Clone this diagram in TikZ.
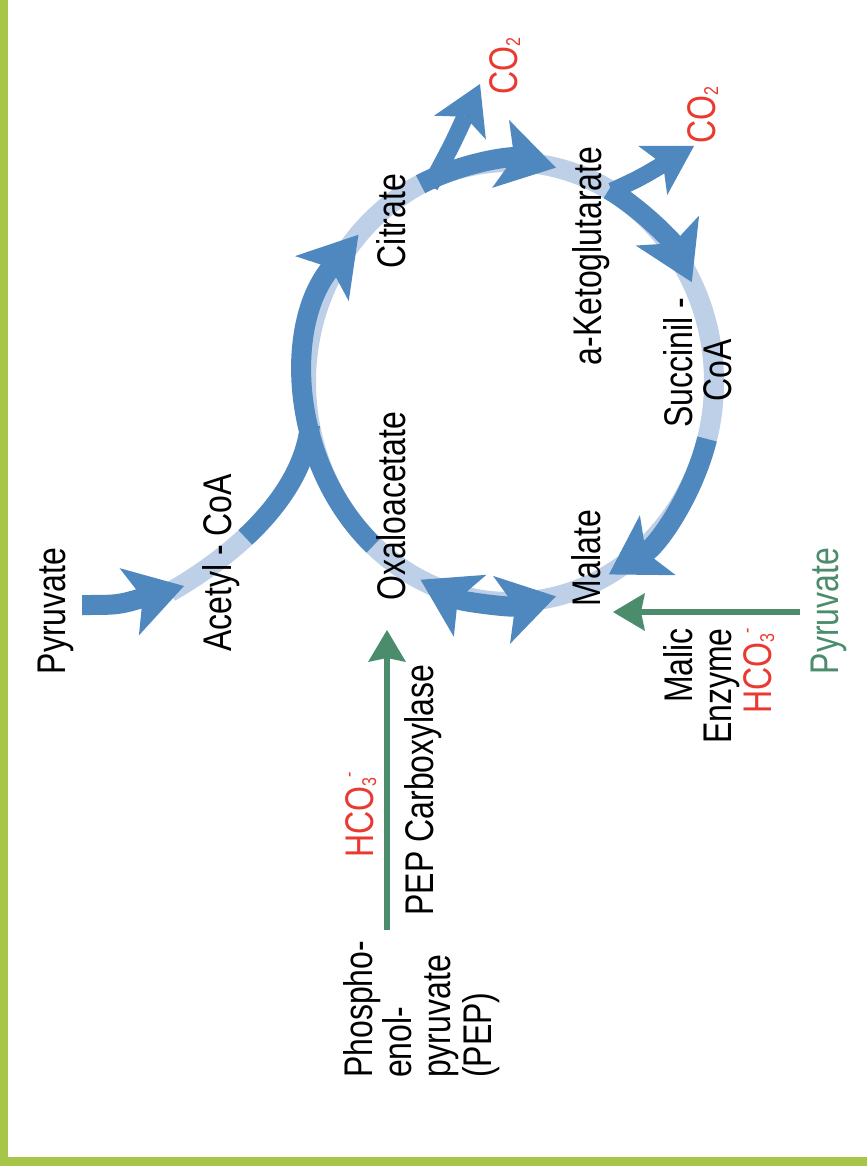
\documentclass[tikz,border=0pt]{standalone}
\usepackage{fontspec}
\setmainfont{Liberation Sans}[FakeStretch=0.8]
\usetikzlibrary{arrows.meta}
\definecolor{cdark}{HTML}{4F88BE}
\definecolor{clight}{HTML}{BED0E8}
\definecolor{cgreen}{HTML}{4A8C6C}
\definecolor{cred}{HTML}{EA3A30}
\definecolor{cborder}{HTML}{A6C649}
\newcommand\lfont{\fontsize{40pt}{39pt}\selectfont}
\newcommand\lsub[1]{\raisebox{-3pt}{\fontsize{20pt}{20pt}\selectfont #1}}
\newcommand\lsup[1]{\raisebox{18pt}{\fontsize{20pt}{20pt}\selectfont #1}}
\tikzset{
  band/.style={line width=20pt},
  lightband/.style={band, draw=clight},
  darkband/.style={band, draw=cdark},
  darkarrow/.style={darkband, -{Stealth[length=57pt,width=70pt,inset=14pt,line width=0pt]}},
  darkdouble/.style={darkband, {Stealth[length=56pt,width=70pt,inset=14pt,line width=0pt]}-{Stealth[length=56pt,width=70pt,inset=14pt,line width=0pt]}},
  co2arrow/.style={line width=17pt, draw=cdark, -{Stealth[length=48pt,width=57pt,inset=12pt,line width=0pt]}},
  greenarrow/.style={line width=5.5pt, draw=cgreen, -{Stealth[length=32pt,width=38pt,inset=4pt,line width=0pt]}},
  lbl/.style={rotate=90, inner sep=0pt, font=\lfont, text=black},
}
\begin{document}
\begin{tikzpicture}[x=1pt,y=-1pt]
\useasboundingbox (0,0) rectangle (867,1166);
\fill[white] (0,0) rectangle (867,1166);
\fill[cborder] (0,0) rectangle (8,1166);
\fill[cborder] (0,1157) rectangle (867,1166);

% cycle centre
\coordinate (C) at (510,382);
% light band (whole cycle and acetyl branch)
\draw[lightband] (C) ellipse[x radius=204, y radius=220];
\coordinate (acS) at (170,592);
\coordinate (acD) at (245.3,537.4);
\coordinate (acJ) at (310,425);
\draw[lightband] (acS) .. controls (235,555) and (303,495) .. (acJ);
\draw[darkband] (acD) .. controls (279.6,505.4) and (305.8,467) .. (acJ);

% pyruvate -> acetyl-CoA
\coordinate (pyS) at (82,605);
\coordinate (pyT) at (184,586);
\draw[darkarrow] (pyS) .. controls (118,605) .. (pyT);

% cycle arrows
\draw[darkarrow] ([shift={(132:204 and 220)}]C) arc[start angle=132, end angle=222, x radius=204, y radius=220];
\draw[darkarrow] ([shift={(244:204 and 220)}]C) arc[start angle=244, end angle=283, x radius=204, y radius=220];
\draw[darkarrow] ([shift={(299:204 and 220)}]C) arc[start angle=299, end angle=333, x radius=204, y radius=220];
\draw[darkarrow] ([shift={(15:204 and 220)}]C) arc[start angle=15, end angle=61, x radius=204, y radius=220];
\draw[darkdouble] ([shift={(116:204 and 220)}]C) arc[start angle=116, end angle=77, x radius=204, y radius=220];

% CO2 branches
\coordinate (b1S) at (430,186);
\coordinate (b1T) at (480,84);
\draw[co2arrow] (b1S) .. controls (452,145) .. (b1T);
\coordinate (b2S) at (612,191);
\coordinate (b2T) at (694,146);
\draw[co2arrow] (b2S) .. controls (640,178) .. (b2T);

% green arrows
\coordinate (gS) at (800,612);
\coordinate (gT) at (613,612);
\draw[greenarrow] (gS) -- (gT);
\coordinate (pS) at (387,930);
\coordinate (pT) at (387,630);
\draw[greenarrow] (pS) -- (pT);

% labels
\node[lbl, anchor=base] (pyr) at (65,611) {Pyruvate};
\node[lbl, anchor=base] (acoa) at (231,563) {Acetyl - CoA};
\node[lbl, anchor=base] (cit) at (405,221) {Citrate};
\node[lbl, anchor=base] (akg) at (601,256) {a-Ketoglutarate};
\node[lbl, anchor=base] (suc1) at (692,363) {Succinil -};
\node[lbl, anchor=base] (suc2) at (731,370) {CoA};
\node[lbl, anchor=base] (mal) at (600,558) {Malate};
\node[lbl, anchor=base] (oaa) at (405,506) {Oxaloacetate};
\node[lbl, anchor=base, text=cred] (co2a) at (517,66) {CO\lsub{2}};
\node[lbl, anchor=base, text=cred] (co2b) at (715,115) {CO\lsub{2}};
\node[lbl, anchor=base east] (me1) at (692,628) {Malic};
\node[lbl, anchor=base east] (me2) at (731,628) {Enzyme};
\node[lbl, anchor=base east, text=cred] (me3) at (771,628) {HCO\lsub{3}\lsup{-}};
\node[lbl, anchor=base, text=cgreen] (pyrg) at (838,611) {Pyruvate};
\node[lbl, anchor=base, text=cred] (hco) at (373,815) {HCO\lsub{3}\lsup{-}};
\node[lbl, anchor=base] (pepc) at (433,790) {PEP Carboxylase};
\node[lbl, anchor=base west] (pep1) at (372,1078) {Phospho-};
\node[lbl, anchor=base west] (pep2) at (411,1078) {enol-};
\node[lbl, anchor=base west] (pep3) at (450,1078) {pyruvate};
\node[lbl, anchor=base west] (pep4) at (491,1078) {(PEP)};
\end{tikzpicture}
\end{document}
